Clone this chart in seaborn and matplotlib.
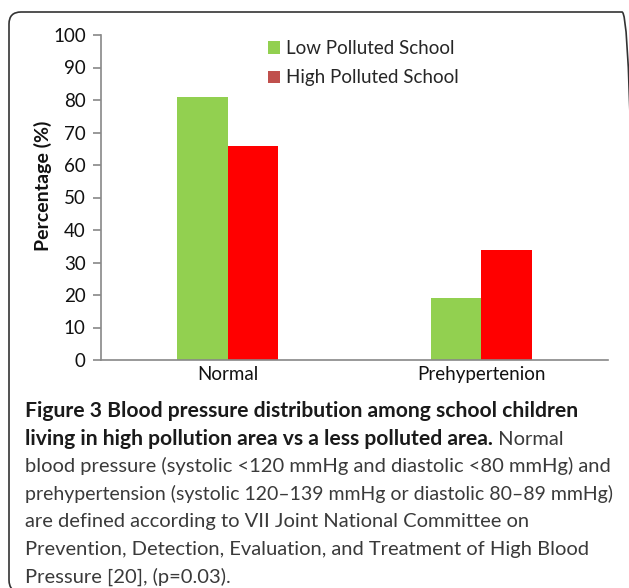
import numpy as np
import pandas as pd
import seaborn as sns
import matplotlib.pyplot as plt
from matplotlib.patches import FancyBboxPatch, Patch
from matplotlib.transforms import IdentityTransform

# data
categories = ["Normal", "Prehypertenion"]
groups = ["Low Polluted School", "High Polluted School"]
low_values = [81, 19]
high_values = [66, 34]
yticks = [0, 10, 20, 30, 40, 50, 60, 70, 80, 90, 100]

bar_colors = ["#92D050", "#FF0000"]
legend_colors = ["#92D050", "#C0504D"]

df = pd.DataFrame({
    "category": categories + categories,
    "group": [groups[0]] * len(categories) + [groups[1]] * len(categories),
    "value": low_values + high_values,
})

sns.set_style("white")
plt.rcParams["font.family"] = ["Lato", "DejaVu Sans"]

W, H = 629, 588
fig = plt.figure(figsize=(W / 100, H / 100), dpi=100)
ax = fig.add_axes([101 / W, 1 - 360 / H, 507 / W, 325 / H])

sns.barplot(data=df, x="category", y="value", hue="group", palette=bar_colors,
            width=0.4, gap=0, saturation=1, errorbar=None, linewidth=0, ax=ax)

ax.set_xlim(-0.5, 1.5)
ax.set_ylim(0, 100)
ax.set_yticks(yticks)
ax.set_xlabel("")
ax.set_ylabel("Percentage (%)", fontsize=14, fontweight="bold", color="#111111")
ax.yaxis.set_label_coords(-0.097, 0.535)

for s in ["top", "right"]:
    ax.spines[s].set_visible(False)
for s in ["left", "bottom"]:
    ax.spines[s].set_color("#888888")
    ax.spines[s].set_linewidth(1.2)

ax.tick_params(axis="y", direction="out", length=6, width=1.2, color="#888888",
               labelsize=13.5, labelcolor="#111111", pad=5, left=True)
ax.tick_params(axis="x", length=0, labelsize=13.5, labelcolor="#111111", pad=4)

ax.get_legend().remove()
handles = [Patch(facecolor=c, edgecolor="none") for c in legend_colors]
fig.legend(handles, groups, loc="upper left", bbox_to_anchor=(268 / W, 1 - 40 / H),
           frameon=False, fontsize=13.5, handlelength=0.65, handleheight=0.65,
           handletextpad=0.3, labelspacing=0.66, borderpad=0, borderaxespad=0)

# rounded frame around figure + caption
frame = FancyBboxPatch((9, -4), 625, 580, boxstyle="round,pad=0,rounding_size=12",
                       transform=IdentityTransform(), fill=False,
                       edgecolor="#333333", linewidth=1.2)
fig.add_artist(frame)

# caption
bold_fs = 15.25
reg_fs = 14.5
bold_c = "#1a1a1a"
reg_c = "#3a3a3a"
caption = [
    [("Figure 3 Blood pressure distribution among school children", "bold")],
    [("living in high pollution area vs a less polluted area.", "bold"),
     (" Normal", "normal")],
    [("blood pressure (systolic <120 mmHg and diastolic <80 mmHg) and", "normal")],
    [("prehypertension (systolic 120\u2013139 mmHg or diastolic 80\u201389 mmHg)", "normal")],
    [("are defined according to VII Joint National Committee on", "normal")],
    [("Prevention, Detection, Evaluation, and Treatment of High Blood", "normal")],
    [("Pressure [20], (p=0.03).", "normal")],
]

x0, max_right = 25, 613
renderer = fig.canvas.get_renderer()
for i, parts in enumerate(caption):
    x = x0
    y = 417 + 27.6 * i
    for text, weight in parts:
        if weight == "bold":
            fs, color = bold_fs, bold_c
        else:
            fs, color = reg_fs, reg_c
        t = fig.text(x / W, 1 - y / H, text, fontsize=fs, fontweight=weight,
                     color=color, ha="left", va="baseline")
        w = t.get_window_extent(renderer).width
        # shrink a line a little if it would run past the frame
        if x + w > max_right:
            t.set_fontsize(fs * (max_right - x) / w)
            w = t.get_window_extent(renderer).width
        x += w

fig.savefig("out.png", dpi=100)
